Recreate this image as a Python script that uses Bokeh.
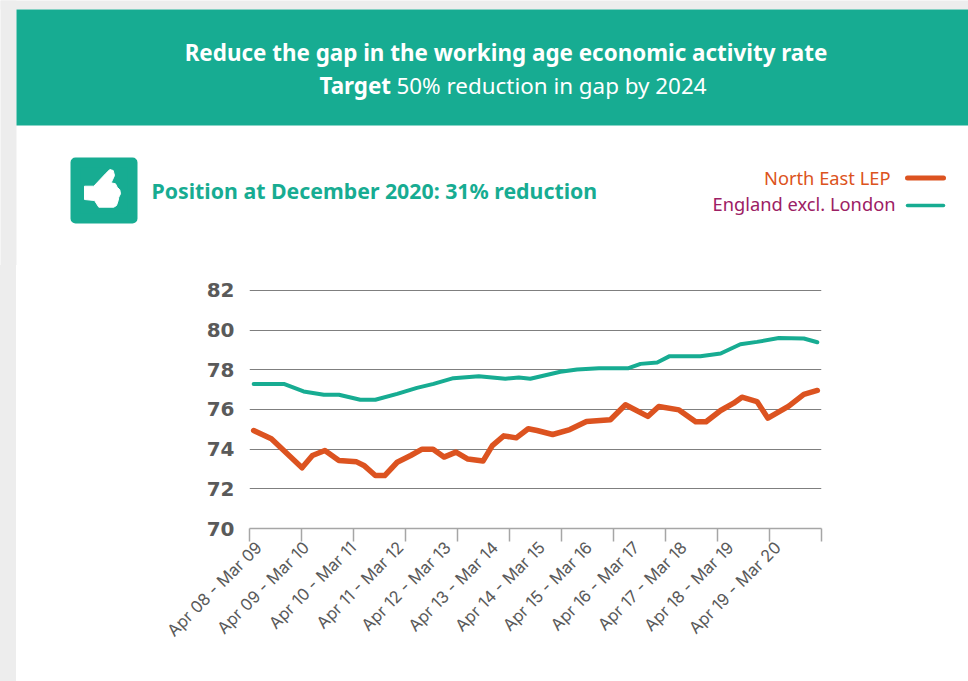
from bokeh.core.properties import value
from bokeh.embed import file_html
from bokeh.layouts import column, row
from bokeh.models import Div, FixedTicker, Range1d
from bokeh.plotting import figure
from bokeh.resources import INLINE
import math

WIDTH, HEIGHT = 968, 681
HEADER_HEIGHT = 265
GUTTER = 16
TEAL = "#17ac92"
ORANGE = "#dc5320"
PLUM = "#9c2064"
GREY_TEXT = "#5a5a5a"
PAGE_GREY = "#ededed"
FONT = "Noto Sans"

year_labels = ["Apr 08 - Mar 09", "Apr 09 - Mar 10", "Apr 10 - Mar 11", "Apr 11 - Mar 12",
               "Apr 12 - Mar 13", "Apr 13 - Mar 14", "Apr 14 - Mar 15", "Apr 15 - Mar 16",
               "Apr 16 - Mar 17", "Apr 17 - Mar 18", "Apr 18 - Mar 19", "Apr 19 - Mar 20"]
y_ticks = [70, 72, 74, 76, 78, 80, 82]
axis_marks = [0, 1, 2, 3, 4, 5, 6, 7, 8, 9, 10, 11]
label_positions = [0.18, 1.09, 1.99, 2.90, 3.81, 4.72, 5.62, 6.53, 7.44, 8.35, 9.25, 10.16]

# x runs along the axis, one unit per tick interval
north_east_x = [0.08, 0.42, 1.01, 1.21, 1.45, 1.72, 2.06, 2.20, 2.42, 2.60, 2.84, 3.10, 3.32, 3.53,
                3.74, 3.97, 4.20, 4.49, 4.67, 4.89, 5.13, 5.36, 5.53, 5.83, 6.16, 6.48, 6.94,
                7.23, 7.66, 7.87, 8.26, 8.58, 8.78, 9.06, 9.31, 9.47, 9.76, 9.97, 10.37, 10.66,
                10.92]
north_east = [74.94, 74.52, 73.06, 73.68, 73.93, 73.43, 73.36, 73.18, 72.67, 72.67, 73.34, 73.68,
              74.00, 74.00, 73.60, 73.85, 73.50, 73.40, 74.18, 74.67, 74.57, 75.03, 74.94, 74.74,
              74.99, 75.39, 75.48, 76.24, 75.65, 76.15, 75.98, 75.38, 75.38, 75.95, 76.32, 76.62,
              76.40, 75.56, 76.17, 76.76, 76.96]

england_x = [0.08, 0.66, 1.04, 1.43, 1.72, 2.13, 2.42, 2.84, 3.22, 3.54, 3.92, 4.41, 4.92, 5.18,
             5.40, 5.98, 6.30, 6.72, 7.29, 7.52, 7.84, 8.08, 8.67, 9.06, 9.44, 9.76, 10.18, 10.66,
             10.92]
england = [77.29, 77.29, 76.91, 76.74, 76.74, 76.49, 76.49, 76.79, 77.09, 77.29, 77.58, 77.68,
           77.55, 77.61, 77.55, 77.90, 78.02, 78.08, 78.08, 78.30, 78.37, 78.69, 78.69, 78.82,
           79.29, 79.41, 79.60, 79.58, 79.39]

# ---- header panel: banner, status badge and legend, laid out in page pixels
header = figure(width=WIDTH, height=HEADER_HEIGHT, output_backend="svg", toolbar_location=None,
                x_range=Range1d(0, WIDTH), y_range=Range1d(HEADER_HEIGHT, 0),
                x_axis_type=None, y_axis_type=None, frame_align=False,
                min_border_left=0, min_border_right=0, min_border_top=0, min_border_bottom=0,
                outline_line_color=None, border_fill_color="white", background_fill_color="white")
header.grid.visible = False


def band(left, right, top, bottom, color):
    header.quad(left=[left], right=[right], top=[top], bottom=[bottom],
                fill_color=color, line_color=None)


def caption(x, y, s, color, size, style="normal", align="left"):
    header.text(x=[x], y=[y], text=[s], text_color=color, text_font=value(FONT),
                text_font_size=f"{size}px", text_font_style=style,
                text_align=align, text_baseline="middle")


# the surround runs past the panel's edges so that no white sliver shows there
band(-4, GUTTER, -4, HEADER_HEIGHT + 4, PAGE_GREY)
band(-4, WIDTH + 4, -4, 9, PAGE_GREY)
band(GUTTER, WIDTH + 4, 9, 125, TEAL)

caption(505.5, 51.5, "Reduce the gap in the working age economic activity rate", "white", 22.4, "bold", "center")
caption(319, 85, "Target", "white", 22.4, "bold")
caption(396, 85, "50% reduction in gap by 2024", "white", 22.4)

# badge: a square with rounded corners from a thick round-joined outline
header.quad(left=[75], right=[132], top=[162], bottom=[218], fill_color=TEAL,
            line_color=TEAL, line_width=10, line_join="round")
thumb_x = [84, 93.3, 105, 109.3, 112.7, 114, 110.7, 115, 116.7, 119.3, 120, 118.3, 117.7, 116, 113.3, 98.3, 94, 84]
thumb_y = [185.7, 185.7, 173.3, 169, 170, 175, 182.3, 183.3, 186.7, 189.3, 193.3, 196.7, 200, 205, 206.7, 206.7, 200, 199]
header.patch(thumb_x, thumb_y, fill_color="white", line_color="white", line_width=1)

caption(151, 190, "Position at December 2020: 31% reduction", TEAL, 21.3, "bold")

caption(890, 177, "North East LEP", ORANGE, 18.3, "normal", "right")
header.line([907, 943], [177.5, 177.5], line_color=ORANGE, line_width=5, line_cap="round")
caption(895, 203, "England excl. London", PLUM, 18.3, "normal", "right")
header.line([907, 943], [205, 205], line_color=TEAL, line_width=3.5, line_cap="round")

# ---- chart panel
chart = figure(width=WIDTH - GUTTER, height=HEIGHT - HEADER_HEIGHT, output_backend="svg",
               toolbar_location=None, margin=0, frame_align=False,
               x_range=Range1d(0, 11), y_range=Range1d(70, 82.05),
               min_border_left=249 - GUTTER, min_border_right=147,
               min_border_top=289 - HEADER_HEIGHT, min_border_bottom=153,
               outline_line_color=None, border_fill_color="white", background_fill_color="white")

# the period names are spaced independently of the tick marks on the axis
xaxis = chart.xaxis[0]
xaxis.ticker = FixedTicker(ticks=label_positions, minor_ticks=axis_marks)
xaxis.major_label_overrides = {pos: lab for pos, lab in zip(label_positions, year_labels)}
xaxis.major_label_orientation = math.pi / 4
xaxis.major_tick_line_color = None
xaxis.minor_tick_in = 0
xaxis.minor_tick_out = 13
xaxis.minor_tick_line_color = "#a6a6a6"
xaxis.minor_tick_line_width = 1.5
xaxis.axis_line_color = "#a6a6a6"
xaxis.axis_line_width = 1.5
xaxis.major_label_text_font = "Inter"
xaxis.major_label_text_font_size = "16.5px"
xaxis.major_label_text_color = GREY_TEXT
xaxis.major_label_standoff = 3

yaxis = chart.yaxis[0]
yaxis.ticker = FixedTicker(ticks=y_ticks)
yaxis.axis_line_color = None
yaxis.major_tick_line_color = None
yaxis.minor_tick_line_color = None
yaxis.major_label_text_font = "DejaVu Sans"
yaxis.major_label_text_font_style = "bold"
yaxis.major_label_text_font_size = "20px"
yaxis.major_label_text_color = GREY_TEXT
yaxis.major_label_standoff = 9

chart.xgrid.visible = False
chart.ygrid.ticker = FixedTicker(ticks=y_ticks)
chart.ygrid.grid_line_color = "#7f7f7f"
chart.ygrid.grid_line_width = 1

chart.line(england_x, england, line_color=TEAL, line_width=4, line_join="round", line_cap="round")
chart.line(north_east_x, north_east, line_color=ORANGE, line_width=5.5, line_join="round", line_cap="round")

# grey strip down the page's left side, beside the chart
strip = Div(text="", width=GUTTER, height=HEIGHT - HEADER_HEIGHT, margin=0,
            styles={"background-color": PAGE_GREY})

page = column(header, row(strip, chart, spacing=0), width=WIDTH, height=HEIGHT, spacing=0)

open("out.html", "w").write(file_html(page, INLINE))
